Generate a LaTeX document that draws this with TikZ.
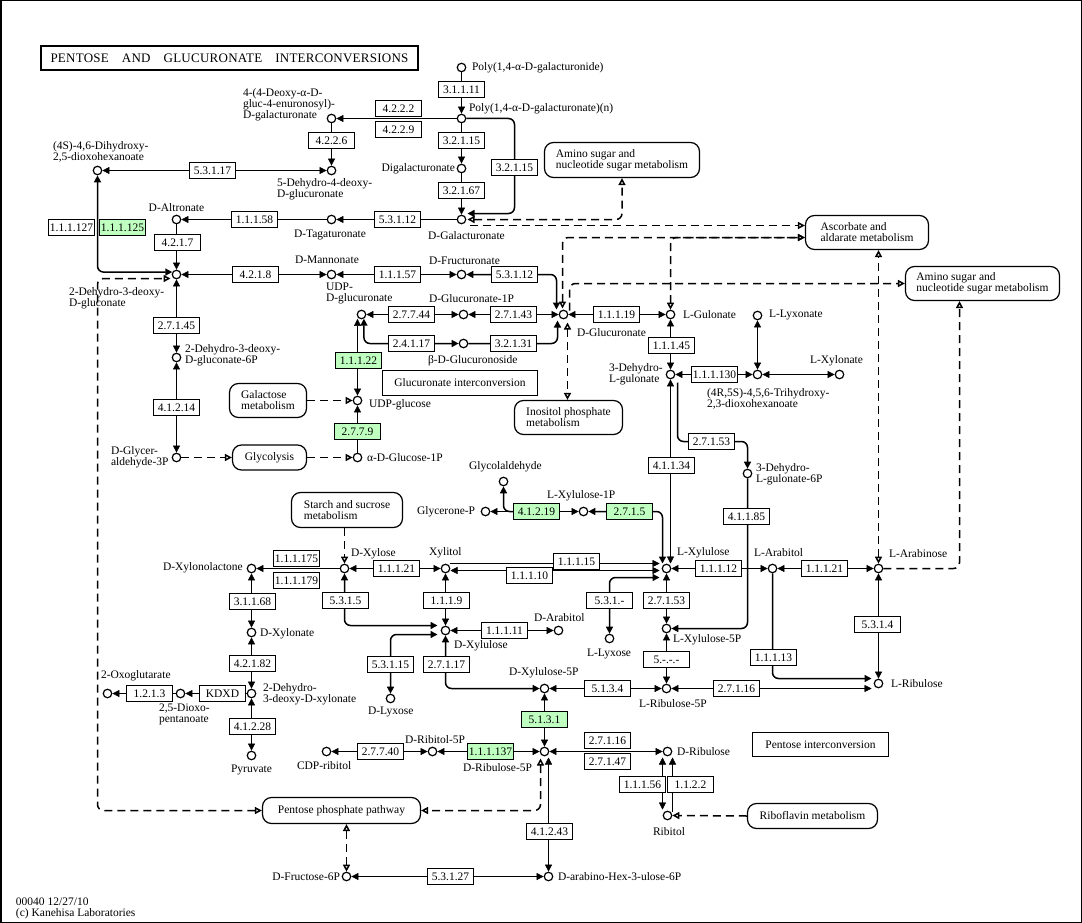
\documentclass[tikz,border=0pt]{standalone}
\usepackage{fontspec}
\setmainfont{Liberation Serif}
\usetikzlibrary{arrows.meta,calc,backgrounds}
\definecolor{kgreen}{HTML}{BFFFBF}
\begin{document}
\begin{tikzpicture}[x=1pt,y=-1pt,
  font=\fontsize{11.5}{11}\selectfont,
  line width=1pt,
  >={Triangle[length=7pt,width=7pt]},
  cpd/.style={circle,draw,fill=white,minimum size=8.5pt,inner sep=0pt,line width=1.2pt},
  enz/.style={rectangle,draw,fill=white,minimum width=46pt,minimum height=16pt,inner sep=1pt,line width=1.1pt},
  genz/.style={enz,fill=kgreen},
  pmap/.style={rectangle,draw,fill=white,rounded corners=9pt,inner sep=0pt,align=left,line width=1.2pt},
  tbox/.style={rectangle,draw,fill=white,inner sep=0pt,line width=1.1pt},
  lbl/.style={inner sep=0pt,align=left},
  dsh/.style={dash pattern=on 8pt off 5pt},
  oe/.style={-{Triangle[open,length=7pt,width=7pt]},dsh,line width=1.5pt},
  ob/.style={{Triangle[open,length=7pt,width=7pt]}-{Triangle[open,length=7pt,width=7pt]},dsh,line width=1.5pt},
  rc/.style={rounded corners=6pt,line width=1.5pt}]
\useasboundingbox (0,0) rectangle (1082,923);
\begin{scope}[shift={(0.5,0.5)}]
\draw[line width=1.5pt] (0.25,0.25) rectangle (1080.75,921.75);
% title
\node[draw,line width=2.5pt,minimum width=377pt,minimum height=24pt,inner sep=0pt] (title) at (229,57.5)
  {\fontsize{13}{13}\selectfont\makebox[358pt][s]{\addfontfeature{LetterSpace=2}PENTOSE AND GLUCURONATE INTERCONVERSIONS}};
\node[lbl,anchor=west] (foot) at (15,908) {00040 12/27/10\\(c) Kanehisa Laboratories};
% ---------- compounds
\node[cpd] (polyide) at (461,67) {};
\node[cpd] (polyate) at (461,118) {};
\node[cpd] (digal) at (461,168) {};
\node[cpd] (dgal) at (461,219) {};
\node[cpd] (deoxygal) at (331,118) {};
\node[cpd] (dehydroglc) at (331,170) {};
\node[cpd] (dihydroxy) at (97,170) {};
\node[cpd] (dtag) at (331,219) {};
\node[cpd] (dalt) at (176,219) {};
\node[cpd] (kdg) at (176,274) {};
\node[cpd] (dman) at (331,274) {};
\node[cpd] (dfru) at (461,274) {};
\node[cpd] (udpgcr) at (361,314) {};
\node[cpd] (gcr1p) at (463,314) {};
\node[cpd] (dgcr) at (563,314) {};
\node[cpd] (lgul) at (670,314) {};
\node[cpd] (bgcrd) at (463,343) {};
\node[cpd] (udpglc) at (357,400) {};
\node[cpd] (aglc1p) at (357,457) {};
\node[cpd] (kdg6p) at (176,357) {};
\node[cpd] (gap) at (176,457) {};
\node[cpd] (dhlgul) at (670,374) {};
\node[cpd] (trihydroxy) at (757,374) {};
\node[cpd] (llyxonate) at (757,315) {};
\node[cpd] (lxylonate) at (839,374) {};
\node[cpd] (dhlgul6p) at (747,473) {};
\node[cpd] (glycolald) at (503,481) {};
\node[cpd] (glyceroneP) at (485,511) {};
\node[cpd] (lxu1p) at (583,511) {};
\node[cpd] (lxu) at (666,568) {};
\node[cpd] (larabitol) at (772,568) {};
\node[cpd] (lara) at (878,568) {};
\node[cpd] (lrul) at (878,683) {};
\node[cpd] (lxu5p) at (666,628) {};
\node[cpd] (lru5p) at (666,688) {};
\node[cpd] (llyxose) at (609,638) {};
\node[cpd] (xylitol) at (445,568) {};
\node[cpd] (dxyl) at (344,568) {};
\node[cpd] (dxylonolactone) at (251,568) {};
\node[cpd] (dxylonate) at (251,632) {};
\node[cpd] (kdx) at (251,693) {};
\node[cpd] (dioxo) at (180,693) {};
\node[cpd] (oxoglut) at (107,693) {};
\node[cpd] (pyr) at (251,755) {};
\node[cpd] (dxu) at (445,630) {};
\node[cpd] (darabitol) at (558,630) {};
\node[cpd] (dlyxose) at (390,698) {};
\node[cpd] (dxu5p) at (544,688) {};
\node[cpd] (dru5p) at (544,751) {};
\node[cpd] (drib5p) at (432,751) {};
\node[cpd] (cdprib) at (326,751) {};
\node[cpd] (dribulose) at (667,751) {};
\node[cpd] (ribitol) at (667,815) {};
\node[cpd] (dfru6p) at (346,876) {};
\node[cpd] (dahu6p) at (548,876) {};
% ---------- compound labels
\node[lbl,anchor=west] (t1) at (471,67) {Poly(1,4-α-D-galacturonide)};
\node[lbl,anchor=west] (t2) at (468,108) {Poly(1,4-α-D-galacturonate)(n)};
\node[lbl,anchor=west] (t3) at (242,104) {4-(4-Deoxy-α-D-\\gluc-4-enuronosyl)-\\D-galacturonate};
\node[lbl,anchor=west] (t4) at (52,151) {(4S)-4,6-Dihydroxy-\\2,5-dioxohexanoate};
\node[lbl,anchor=west] (t5) at (276,189) {5-Dehydro-4-deoxy-\\D-glucuronate};
\node[lbl,anchor=east] (t6) at (455,168) {Digalacturonate};
\node[lbl] (t7) at (466,235) {D-Galacturonate};
\node[lbl,anchor=west] (t8) at (293,234) {D-Tagaturonate};
\node[lbl] (t9) at (176,207) {D-Altronate};
\node[lbl,anchor=west] (t10) at (68,298) {2-Dehydro-3-deoxy-\\D-gluconate};
\node[lbl,anchor=west] (t11) at (294,259) {D-Mannonate};
\node[lbl,anchor=west] (t12) at (325,293) {UDP-\\D-glucuronate};
\node[lbl,anchor=west] (t13) at (428,260) {D-Fructuronate};
\node[lbl,anchor=west] (t14) at (428,298) {D-Glucuronate-1P};
\node[lbl,anchor=west] (t15) at (576,332) {D-Glucuronate};
\node[lbl,anchor=west] (t16) at (682,314) {L-Gulonate};
\node[lbl,anchor=west] (t17) at (768,314) {L-Lyxonate};
\node[lbl,anchor=west] (t18) at (809,360) {L-Xylonate};
\node[lbl,anchor=west] (t19) at (706,398) {(4R,5S)-4,5,6-Trihydroxy-\\2,3-dioxohexanoate};
\node[lbl,anchor=west] (t20) at (608,374) {3-Dehydro-\\L-gulonate};
\node[lbl,anchor=west] (t21) at (755,474) {3-Dehydro-\\L-gulonate-6P};
\node[lbl,anchor=west] (t22) at (427,360) {β-D-Glucuronoside};
\node[lbl,anchor=west] (t23) at (368,404) {UDP-glucose};
\node[lbl,anchor=west] (t24) at (366,457) {α-D-Glucose-1P};
\node[lbl,anchor=west] (t25) at (184,355) {2-Dehydro-3-deoxy-\\D-gluconate-6P};
\node[lbl,anchor=west] (t26) at (110,457) {D-Glycer-\\aldehyde-3P};
\node[lbl,anchor=west] (t27) at (468,466) {Glycolaldehyde};
\node[lbl,anchor=west] (t28) at (546,495) {L-Xylulose-1P};
\node[lbl,anchor=west] (t29) at (416,511) {Glycerone-P};
\node[lbl,anchor=west] (t30) at (350,553) {D-Xylose};
\node[lbl,anchor=west] (t31) at (428,552) {Xylitol};
\node[lbl,anchor=west] (t32) at (162,567) {D-Xylonolactone};
\node[lbl,anchor=west] (t33) at (259,633) {D-Xylonate};
\node[lbl,anchor=west] (t34) at (262,694) {2-Dehydro-\\3-deoxy-D-xylonate};
\node[lbl,anchor=west] (t35) at (158,714) {2,5-Dioxo-\\pentanoate};
\node[lbl,anchor=west] (t36) at (100,675) {2-Oxoglutarate};
\node[lbl] (t37) at (251,769) {Pyruvate};
\node[lbl,anchor=west] (t38) at (296,765) {CDP-ribitol};
\node[lbl,anchor=west] (t39) at (453,645) {D-Xylulose};
\node[lbl,anchor=west] (t40) at (533,617) {D-Arabitol};
\node[lbl,anchor=west] (t41) at (367,711) {D-Lyxose};
\node[lbl,anchor=west] (t42) at (586,653) {L-Lyxose};
\node[lbl,anchor=west] (t43) at (676,552) {L-Xylulose};
\node[lbl,anchor=west] (t44) at (753,552) {L-Arabitol};
\node[lbl,anchor=west] (t45) at (888,553) {L-Arabinose};
\node[lbl,anchor=west] (t46) at (890,683) {L-Ribulose};
\node[lbl,anchor=west] (t47) at (672,639) {L-Xylulose-5P};
\node[lbl,anchor=west] (t48) at (638,703) {L-Ribulose-5P};
\node[lbl,anchor=west] (t49) at (508,672) {D-Xylulose-5P};
\node[lbl,anchor=west] (t50) at (404,739) {D-Ribitol-5P};
\node[lbl,anchor=west] (t51) at (462,767) {D-Ribulose-5P};
\node[lbl,anchor=west] (t52) at (676,751) {D-Ribulose};
\node[lbl,anchor=west] (t53) at (652,831) {Ribitol};
\node[lbl,anchor=west] (t54) at (557,876) {D-arabino-Hex-3-ulose-6P};
\node[lbl,anchor=east] (t55) at (340,876) {D-Fructose-6P};
% ---------- pathway maps and text boxes
\node[pmap,minimum width=155pt,minimum height=35pt] (amino1) at (621.5,159.5) {Amino sugar and\\nucleotide sugar metabolism};
\node[pmap,minimum width=123pt,minimum height=34pt] (ascorb) at (866.5,232) {Ascorbate and\\aldarate metabolism};
\node[pmap,minimum width=154pt,minimum height=34pt] (amino2) at (982,283) {Amino sugar and\\nucleotide sugar metabolism};
\node[pmap,minimum width=77pt,minimum height=34pt] (galact) at (267.5,400) {Galactose\\metabolism};
\node[pmap,minimum width=74pt,minimum height=25pt] (glycol) at (269,457) {Glycolysis};
\node[pmap,minimum width=108pt,minimum height=34pt] (inositol) at (568,417) {Inositol phosphate\\metabolism};
\node[pmap,minimum width=111pt,minimum height=35pt] (starch) at (346.5,509.5) {Starch and sucrose\\metabolism};
\node[pmap,minimum width=158pt,minimum height=26pt] (ppp) at (341,810) {Pentose phosphate pathway};
\node[pmap,minimum width=130pt,minimum height=25pt] (ribofl) at (812,815.5) {Riboflavin metabolism};
\node[tbox,minimum width=155pt,minimum height=25pt] (glcint) at (459.5,382.5) {Glucuronate interconversion};
\node[tbox,minimum width=136pt,minimum height=24pt] (pentint) at (820,744) {Pentose interconversion};
% ---------- enzymes
\node[enz] (e31111) at (461,89) {3.1.1.11};
\node[enz] (e4222) at (398,108) {4.2.2.2};
\node[enz] (e4229) at (398,129) {4.2.2.9};
\node[enz] (e4226) at (331,140) {4.2.2.6};
\node[enz] (e53117) at (212,170) {5.3.1.17};
\node[enz] (e32115a) at (461,140) {3.2.1.15};
\node[enz] (e32115b) at (514,167) {3.2.1.15};
\node[enz] (e32167) at (461,190) {3.2.1.67};
\node[enz] (e53112a) at (397,219) {5.3.1.12};
\node[enz] (e11158) at (254,219) {1.1.1.58};
\node[enz] (e111127) at (71,227) {1.1.1.127};
\node[genz] (e111125) at (122,227) {1.1.1.125};
\node[enz] (e4217) at (177,242) {4.2.1.7};
\node[enz] (e4218) at (255,274) {4.2.1.8};
\node[enz] (e11157) at (397,274) {1.1.1.57};
\node[enz] (e53112b) at (514,274) {5.3.1.12};
\node[enz] (e27744) at (411,314) {2.7.7.44};
\node[enz] (e27143) at (513,314) {2.7.1.43};
\node[enz] (e11119) at (616,314) {1.1.1.19};
\node[enz] (e24117) at (411,343) {2.4.1.17};
\node[enz] (e32131) at (513,343) {3.2.1.31};
\node[genz] (e11122) at (358,360) {1.1.1.22};
\node[genz] (e2779) at (357,431) {2.7.7.9};
\node[enz] (e27145) at (176,325) {2.7.1.45};
\node[enz] (e41214) at (176,407) {4.1.2.14};
\node[enz] (e11145) at (671,345) {1.1.1.45};
\node[enz] (e111130) at (714,374) {1.1.1.130};
\node[enz] (e27153a) at (711,441) {2.7.1.53};
\node[enz] (e41134) at (671,465) {4.1.1.34};
\node[enz] (e41185) at (746,516) {4.1.1.85};
\node[genz] (e41219) at (536,511) {4.1.2.19};
\node[genz] (e2715) at (629,511) {2.7.1.5};
\node[enz] (e11115) at (576,561) {1.1.1.15};
\node[enz] (e11110) at (529,575) {1.1.1.10};
\node[enz] (e11112) at (718,568) {1.1.1.12};
\node[enz] (e11121a) at (824,568) {1.1.1.21};
\node[enz] (e5314) at (877,624) {5.3.1.4};
\node[enz] (e11113) at (773,657) {1.1.1.13};
\node[enz] (e27116a) at (736,688) {2.7.1.16};
\node[enz] (e27153b) at (666,600) {2.7.1.53};
\node[enz] (e5xxx) at (666,659) {5.-.-.-};
\node[enz] (e531x) at (609,600) {5.3.1.-};
\node[enz] (e11121b) at (396,568) {1.1.1.21};
\node[enz] (e111175) at (296,558) {1.1.1.175};
\node[enz] (e111179) at (296,580) {1.1.1.179};
\node[enz] (e5315) at (345,600) {5.3.1.5};
\node[enz] (e1119) at (446,600) {1.1.1.9};
\node[enz] (e11111) at (504,630) {1.1.1.11};
\node[enz] (e53115) at (390,664) {5.3.1.15};
\node[enz] (e27117) at (446,664) {2.7.1.17};
\node[enz] (e5134) at (607,688) {5.1.3.4};
\node[genz] (e5131) at (544,719) {5.1.3.1};
\node[genz] (e111137) at (490,751) {1.1.1.137};
\node[enz] (e27740) at (380,751) {2.7.7.40};
\node[enz] (e27116b) at (607,740) {2.7.1.16};
\node[enz] (e27147) at (607,761) {2.7.1.47};
\node[enz] (e11156) at (642,784) {1.1.1.56};
\node[enz] (e1122) at (690,784) {1.1.2.2};
\node[enz] (e41243) at (549,831) {4.1.2.43};
\node[enz] (e53127) at (450,876) {5.3.1.27};
\node[enz] (e31168) at (252,601) {3.1.1.68};
\node[enz] (e42182) at (252,663) {4.2.1.82};
\node[enz] (ekdxd) at (222,693) {KDXD};
\node[enz] (e1213) at (149,693) {1.2.1.3};
\node[enz] (e41228) at (252,726) {4.1.2.28};
% helper coordinates
\coordinate (dgcrb) at ($(dgcr)+(4,8)$);
\coordinate (dgalr) at ($(dgal)+(8,6)$);
\coordinate (dgct) at ($(dgcr)+(-1,-6)$);
\coordinate (dgcta) at ($(dgcr)+(6,-4)$);
\coordinate (am2b) at ($(amino2.south)+(-23,0)$);
\coordinate (ascw) at ($(ascorb.west)+(0,5)$);
\coordinate (kdgcorner) at (97,278);
% ---------- connectors
\begin{scope}[on background layer,line width=1.2pt]
\fill[white] (-1,-1) rectangle (1082,923);
\draw[->] (polyide) -- (polyate);
\draw[->] (polyate) -- (deoxygal);
\draw[->] (deoxygal) -- (dehydroglc);
\draw[<->] (dihydroxy) -- (dehydroglc);
\draw[->] (polyate) -- (digal);
\draw[->] (digal) -- (dgal);
\draw[->,rc] (polyate.east) -| (e32115b) |- ($(dgal)+(6,-6)$);
\draw[->] (dgal) -- (dtag);
\draw[->] (dtag) -- (dalt);
\draw[->] (dalt) -- (kdg);
\draw[<->,rc] (dihydroxy) |- (kdg.150);
\draw[<->] (dman) -- (kdg);
\draw[<->] (dfru) -- (dman);
\draw[<->,rc] (dfru) -| ($(dgcr)+(-7,-5)$);
\draw[<->] (gcr1p) -- (udpgcr);
\draw[<->] (dgcr) -- (gcr1p);
\draw[<->] (dgcr) -- (lgul);
\draw[<->,rc] (bgcrd) -| (udpgcr.-60);
\draw[->,rc] (bgcrd) -| ($(dgcr)+(-6,6)$);
\draw[<->] (udpglc.north) -- (udpglc.north |- udpgcr.-115);
\draw[->] (aglc1p) -- (udpglc);
\draw[<->] (kdg) -- (kdg6p);
\draw[<->] (kdg6p) -- (gap);
\draw[<->] (lgul) -- (dhlgul);
\draw[<->] (dhlgul) -- (trihydroxy);
\draw[<->] (llyxonate) -- (trihydroxy);
\draw[<->] (trihydroxy) -- (lxylonate);
\draw[->,rc] ($(dhlgul)+(7,8)$) |- (e27153a) -| (dhlgul6p.north);
\draw[<->] (dhlgul.south) -- ($(lxu)+(4,-5)$);
\draw[<->,rc] (lxu1p) -| ($(lxu)+(-4,-5)$);
\draw[<->] (lxu1p) -- (glyceroneP);
\draw[->,rc] (e41219.west) -| (glycolald.south);
\draw[->] ($(xylitol)+(4,-5)$) -- ($(lxu)+(-7,-5)$);
\draw[<->] ($(xylitol)+(5,2)$) -- ($(lxu)+(-7,2)$);
\draw[<->,rc] ($(lxu)+(-7,9)$) -| (llyxose.north);
\draw[<->] (lxu) -- (larabitol);
\draw[<->] (larabitol) -- (lara);
\draw[<->] (lara) -- (lrul);
\draw[->,rc] (larabitol) |- ($(lrul)+(-7,-5)$);
\draw[<->] (lru5p) -- ($(lrul)+(-7,5)$);
\draw[<->] (lxu) -- (lxu5p);
\draw[<->] (lxu5p) -- (lru5p);
\draw[->,rc] (dhlgul6p) |- (lxu5p);
\draw[<->] (dxu5p) -- (lru5p);
\draw[<->] (dxu5p) -- (dru5p);
\draw[<->] (drib5p) -- (dru5p);
\draw[<->] (cdprib) -- (drib5p);
\draw[<->] (dru5p) -- (dribulose);
\draw[<->] ($(dribulose)+(-5,6)$) -- ($(ribitol)+(-5,-6)$);
\draw[->] ($(ribitol)+(5,-4)$) -- ($(dribulose)+(5,6)$);
\draw[<->] ($(dru5p)+(4,6)$) -- (dahu6p.north);
\draw[<->] (dfru6p) -- (dahu6p);
\draw[<->] (dxyl) -- (xylitol);
\draw[->] (dxyl) -- (dxylonolactone);
\draw[<->] (dxylonolactone) -- (dxylonate);
\draw[<->] (dxylonate) -- (kdx);
\draw[->] (kdx) -- (dioxo);
\draw[->] (dioxo) -- (oxoglut);
\draw[<->] (kdx) -- (pyr);
\draw[<->,rc] (dxyl) |- ($(dxu)+(-8,-5)$);
\draw[<->] (xylitol) -- (dxu);
\draw[<->] (dxu) -- (darabitol);
\draw[<->,rc] ($(dxu)+(-8,4)$) -| (dlyxose.north);
\draw[<->,rc] (dxu) |- (dxu5p);
% dashed map links
\draw[rc,ob] (ppp.west) -| (kdgcorner) -- ($(kdg)+(-6,4)$);
\draw[rc,ob] ($(dru5p)+(-4,7)$) |- (ppp.east);
\draw[ob] (dfru6p.north) -- (dfru6p.north |- ppp.south);
\draw[oe] (ribofl.west) -- (ribitol.east);
\draw[oe] (galact.east) -- (udpglc.west);
\draw[oe] (gap.east) -- (glycol.west);
\draw[oe] (glycol.east) -- (aglc1p.west);
\draw[oe] (dxyl.north |- starch.south) -- (dxyl.north);
\draw[ob] (dgcrb) -- (dgcrb |- inositol.north);
\draw[rc,ob] ($(dgal)+(6,0)$) -| (amino1.south);
\draw[oe] (dgalr) -- (dgalr -| ascorb.west);
\draw[rc,ob] (dgct) |- (ascw);
\draw[rc,ob] (lgul.north) |- (ascw);
\draw[rc,oe] (dgcta) |- (amino2.west);
\draw[ob] (lara.north) -- (lara.north |- ascorb.south);
\draw[rc,oe] (lara.east) -| (am2b);
\end{scope}
\end{scope}
\end{tikzpicture}
\end{document}
